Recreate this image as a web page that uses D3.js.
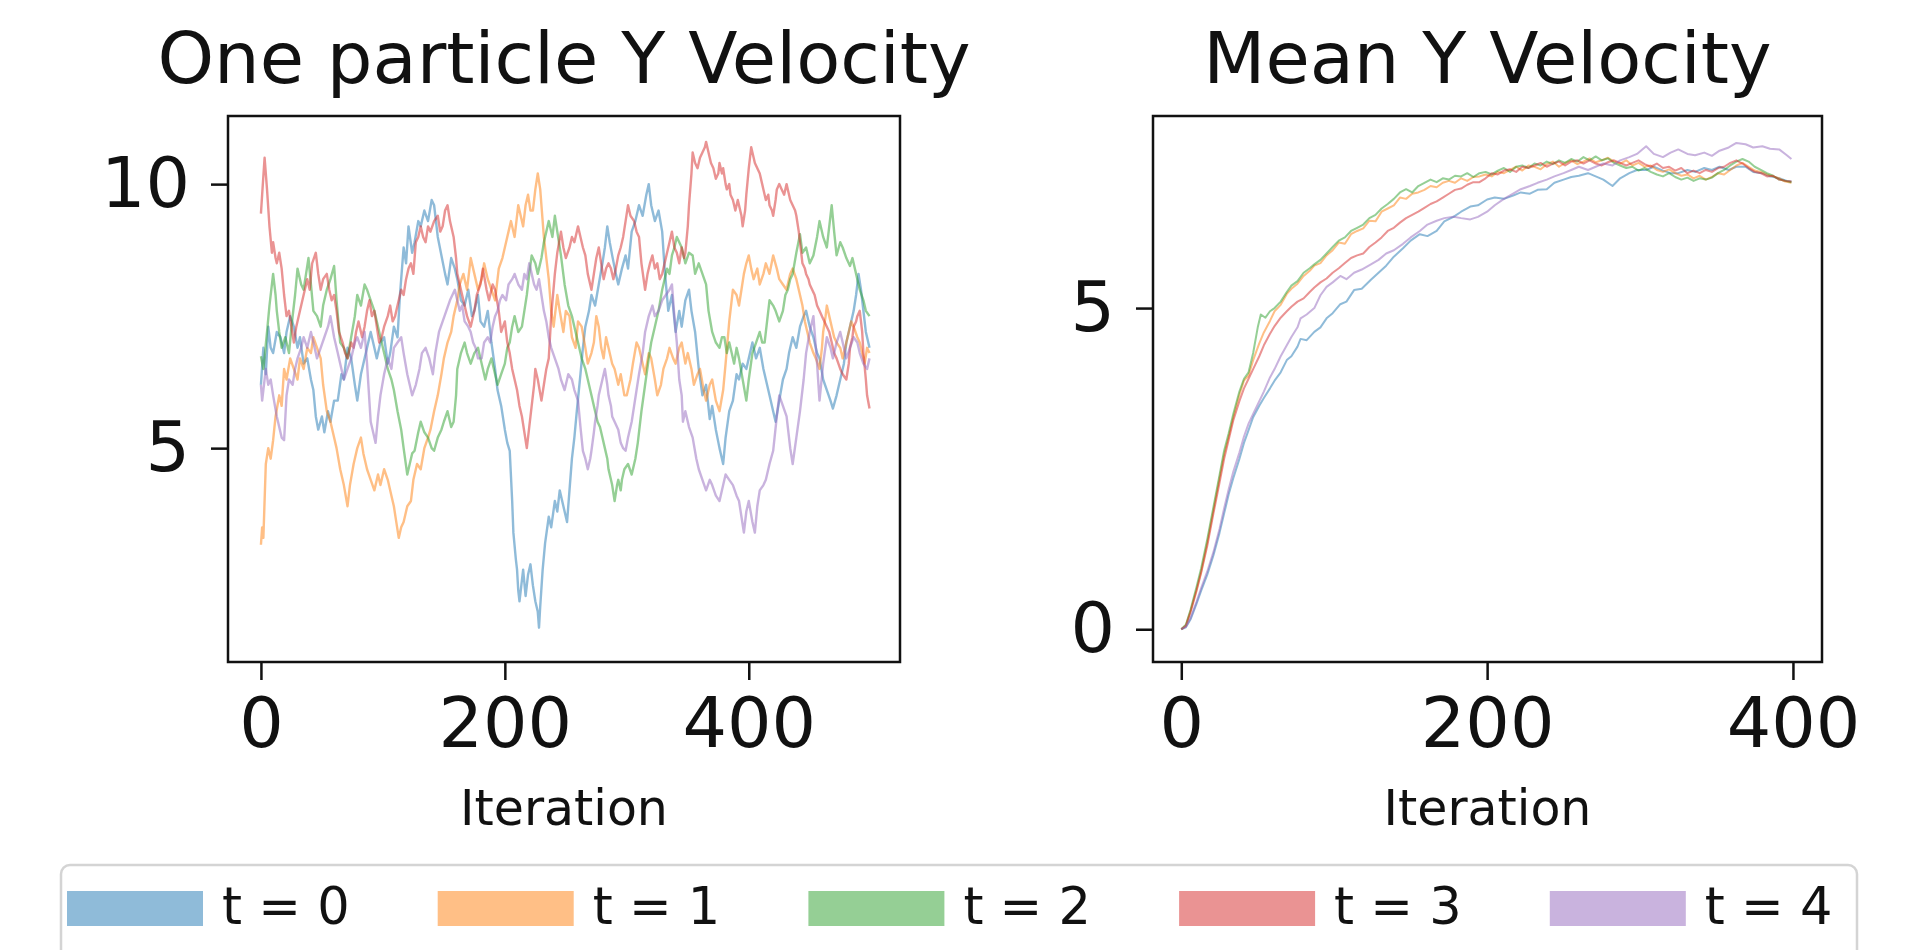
<!DOCTYPE html>
<html>
<head>
<meta charset="utf-8">
<script src="https://cdn.jsdelivr.net/npm/d3@7"></script>
<style>
html, body { margin: 0; padding: 0; background: #fff; overflow: hidden; }
svg text { font-family: "DejaVu Sans", sans-serif; fill: #111; }
</style>
</head>
<body>
<svg id="chart" width="1922" height="950"></svg>
<script>
// [iteration, y velocity]
var oneT0 = [[0,6.2],[2,6.9],[4,6.4],[6,7.3],[8,6.9],[10,6.8],[13,7.2],[16,7.1],[19,6.8],[21,7.2],[24,7.5],[27,7.3],[30,6.9],[32,7.1],[35,6.6],[38,6.7],[41,6.3],[43,6.1],[45,5.6],[47,5.35],[50,5.6],[52,5.3],[55,5.7],[57,5.5],[60,5.9],[63,5.9],[66,6.4],[68,6.3],[71,6.9],[74,6.7],[77,6.2],[79,5.9],[82,6.4],[85,6.7],[88,7.0],[90,7.2],[93,6.9],[95,6.7],[98,7.0],[101,7.1],[104,6.6],[106,6.8],[109,7.3],[112,7.1],[114,7.9],[117,8.8],[119,8.5],[121,9.2],[124,8.7],[126,8.9],[129,9.3],[131,9.2],[134,9.5],[137,9.3],[140,9.7],[142,9.6],[145,9.0],[148,8.65],[151,8.3],[153,8.1],[156,8.6],[159,8.4],[161,8.2],[164,7.8],[167,7.7],[170,8.0],[173,7.5],[175,7.6],[178,7.9],[180,7.4],[183,7.3],[186,7.6],[189,7.0],[192,6.5],[194,6.1],[197,5.8],[200,5.35],[202,5.1],[204,4.95],[206,4.0],[207,3.4],[209,2.9],[210,2.7],[211,2.3],[212,2.1],[214,2.5],[215,2.7],[217,2.2],[219,2.6],[221,2.8],[223,2.4],[225,2.1],[227,1.9],[228,1.6],[229,2.0],[231,2.7],[233,3.2],[236,3.7],[238,3.5],[241,4.0],[243,3.8],[245,4.2],[248,3.9],[251,3.6],[253,4.2],[255,4.8],[257,5.2],[259,5.7],[262,6.4],[264,6.9],[266,7.3],[269,7.6],[271,7.9],[274,7.7],[277,8.1],[280,8.5],[282,8.8],[284,9.2],[286,8.9],[288,8.65],[291,8.3],[293,8.1],[296,8.4],[299,8.65],[301,8.4],[304,9.1],[307,9.3],[310,9.6],[313,9.4],[316,9.8],[318,10.0],[320,9.6],[323,9.3],[326,9.5],[329,9.1],[331,8.4],[334,7.6],[337,7.9],[340,7.2],[343,7.6],[345,7.3],[348,7.8],[351,8.0],[353,7.6],[356,7.2],[359,6.5],[362,6.0],[365,6.2],[368,5.55],[370,5.8],[373,5.35],[376,5.0],[379,4.7],[381,5.2],[384,5.7],[387,5.9],[390,6.4],[392,6.3],[395,6.6],[398,6.5],[400,6.7],[403,7.0],[406,6.7],[409,6.9],[412,6.5],[415,6.2],[417,6.0],[420,5.7],[422,5.5],[425,5.9],[428,6.3],[431,6.5],[433,6.8],[436,7.1],[439,6.9],[442,7.3],[445,7.5],[447,7.6],[450,7.3],[453,7.1],[456,6.8],[458,6.7],[461,6.3],[464,6.1],[467,5.9],[469,5.75],[472,6.0],[475,6.3],[478,6.6],[480,7.0],[483,7.3],[486,7.6],[488,7.9],[490,8.3],[492,8.0],[494,7.6],[496,7.2],[499,6.9]];
var oneT1 = [[0,3.17],[1,3.5],[2,3.3],[4,4.7],[6,5.0],[8,4.8],[10,5.15],[12,5.6],[15,6.0],[17,5.8],[19,6.5],[21,6.3],[24,6.7],[27,6.5],[30,6.3],[32,6.7],[35,6.5],[38,6.9],[41,6.8],[43,7.1],[46,6.9],[49,6.7],[51,6.2],[54,5.7],[57,5.5],[60,5.2],[62,5.0],[65,4.6],[68,4.3],[71,3.9],[73,4.3],[76,4.7],[79,5.0],[82,5.2],[84,4.9],[87,4.6],[90,4.4],[93,4.2],[96,4.5],[98,4.3],[101,4.6],[104,4.4],[107,4.1],[109,3.9],[111,3.6],[113,3.3],[115,3.5],[117,3.6],[120,3.9],[123,4.0],[125,4.4],[128,4.7],[131,4.6],[134,5.0],[137,5.2],[139,5.35],[142,5.7],[145,6.0],[148,6.4],[150,6.7],[153,7.0],[156,7.2],[158,7.5],[161,7.8],[163,8.1],[166,8.3],[169,8.0],[172,8.6],[175,8.3],[178,8.0],[181,8.2],[183,8.5],[186,8.2],[189,8.0],[192,7.8],[195,8.4],[198,8.6],[200,8.8],[203,9.1],[205,9.3],[208,9.0],[211,9.6],[213,9.4],[215,9.2],[217,9.6],[219,9.8],[221,9.5],[223,9.5],[225,9.9],[227,10.2],[229,9.9],[230,9.6],[232,9.0],[234,8.6],[236,8.2],[238,7.6],[240,7.3],[243,7.9],[245,7.6],[248,7.2],[250,7.6],[253,7.5],[255,7.1],[258,6.9],[260,7.4],[263,7.3],[266,6.9],[268,6.6],[271,6.8],[273,7.0],[275,7.5],[277,7.3],[279,6.9],[281,6.7],[283,7.1],[285,6.9],[288,6.6],[290,6.5],[293,6.2],[295,6.4],[298,6.0],[300,6.0],[303,6.3],[305,6.6],[308,7.0],[310,6.9],[313,6.6],[315,6.4],[318,6.8],[320,6.7],[323,6.3],[325,6.0],[328,6.2],[330,6.5],[333,6.7],[335,6.9],[338,6.7],[340,6.6],[343,6.9],[345,7.0],[348,6.6],[350,6.8],[353,6.5],[355,6.2],[358,6.4],[360,6.5],[363,6.1],[365,5.9],[368,6.2],[370,6.3],[373,5.9],[376,5.7],[379,6.1],[381,6.6],[384,7.4],[387,8.0],[390,7.9],[392,7.7],[394,8.0],[396,8.3],[398,8.5],[400,8.65],[402,8.4],[404,8.2],[407,8.4],[409,8.1],[412,8.3],[414,8.5],[417,8.3],[420,8.65],[423,8.4],[425,8.2],[428,8.1],[431,8.0],[434,8.3],[436,8.4],[439,8.2],[441,8.0],[444,7.7],[446,7.4],[448,7.2],[450,7.0],[453,6.8],[455,6.7],[458,6.5],[460,6.9],[461,7.2],[463,7.5],[464,7.7],[466,7.5],[468,7.3],[470,7.1],[472,7.0],[475,6.9],[477,6.7],[479,6.9],[481,7.1],[484,7.4],[486,7.3],[489,7.1],[491,7.0],[493,6.8],[495,6.6],[497,6.9],[499,6.8]];
var oneT2 = [[0,6.74],[2,6.5],[5,7.2],[7,7.7],[10,8.3],[12,7.9],[13,7.6],[15,7.2],[17,6.9],[20,7.1],[23,6.8],[26,7.5],[28,7.9],[30,8.4],[33,8.1],[35,8.0],[37,8.3],[39,8.6],[41,8.1],[43,7.6],[46,7.5],[49,7.3],[51,7.7],[54,8.0],[57,8.2],[60,8.45],[62,7.8],[65,7.0],[68,6.9],[71,6.7],[74,7.1],[77,7.5],[79,7.9],[82,7.7],[85,8.1],[87,8.0],[90,7.8],[93,7.6],[96,7.3],[98,7.1],[101,6.8],[104,6.5],[107,6.3],[109,6.1],[112,5.7],[115,5.35],[117,5.0],[120,4.5],[122,4.7],[124,4.9],[126,4.95],[129,5.3],[131,5.5],[134,5.3],[137,5.2],[140,5.0],[142,4.95],[145,5.2],[148,5.35],[150,5.5],[153,5.7],[156,5.4],[158,5.5],[160,6.0],[161,6.5],[164,6.8],[167,7.0],[169,6.8],[172,6.6],[175,6.8],[178,6.9],[181,6.6],[184,6.3],[186,6.5],[189,6.7],[192,6.4],[194,6.2],[197,6.4],[200,6.6],[202,6.9],[204,7.0],[206,7.3],[208,7.5],[211,7.2],[214,7.3],[216,7.6],[218,7.9],[220,8.3],[222,8.65],[225,8.5],[227,8.3],[230,8.6],[232,8.9],[234,9.1],[236,9.3],[239,9.0],[241,9.4],[243,9.1],[246,8.65],[249,8.1],[252,7.7],[255,7.5],[257,7.3],[260,7.0],[263,6.7],[266,6.5],[268,6.3],[271,6.0],[274,5.7],[276,5.5],[278,5.4],[280,5.2],[282,5.0],[284,4.8],[285,4.6],[287,4.4],[288,4.3],[290,4.0],[292,4.3],[293,4.4],[295,4.2],[296,4.4],[298,4.6],[301,4.7],[304,4.5],[307,4.8],[309,5.1],[312,5.7],[315,6.2],[318,6.7],[320,7.0],[323,7.3],[326,7.6],[329,8.0],[331,8.2],[333,8.4],[335,8.3],[337,8.65],[339,8.8],[341,9.0],[343,8.9],[345,8.8],[348,8.5],[351,8.7],[354,8.65],[356,8.3],[359,8.5],[362,8.3],[365,8.1],[367,7.6],[370,7.2],[373,7.0],[376,6.9],[378,7.1],[380,7.1],[382,6.8],[384,7.0],[386,6.8],[388,6.6],[390,6.9],[392,6.7],[395,6.3],[398,5.9],[400,6.3],[403,6.8],[406,7.0],[409,7.2],[411,7.0],[413,7.0],[415,7.4],[417,7.8],[420,7.7],[422,7.6],[425,7.4],[428,7.6],[430,7.9],[432,8.0],[434,8.2],[436,8.3],[439,8.7],[442,9.05],[444,8.7],[447,8.8],[450,8.5],[453,8.65],[456,9.0],[458,9.3],[461,9.0],[464,8.8],[466,9.2],[468,9.6],[470,9.1],[472,8.65],[475,8.9],[477,8.8],[480,8.6],[483,8.45],[485,8.6],[488,8.3],[491,8.0],[494,7.8],[496,7.6],[499,7.5]];
var oneT3 = [[0,9.44],[1,9.8],[3,10.5],[5,9.9],[7,9.2],[9,8.7],[10,8.9],[12,8.6],[13,8.5],[15,8.7],[17,8.4],[19,7.9],[21,7.5],[23,7.6],[25,7.3],[27,7.0],[29,7.3],[32,7.6],[35,7.9],[38,8.2],[40,8.0],[42,8.5],[45,8.7],[47,8.3],[49,8.0],[51,8.2],[54,8.3],[56,8.0],[58,7.8],[60,7.9],[62,7.6],[64,7.2],[67,7.0],[69,6.8],[71,6.7],[74,7.0],[76,6.9],[78,7.2],[80,7.4],[83,7.1],[85,7.3],[87,7.6],[89,7.8],[91,7.5],[93,7.6],[95,7.3],[97,7.0],[99,7.1],[101,7.3],[104,7.5],[106,7.7],[108,7.4],[110,7.5],[113,7.8],[115,8.0],[117,7.9],[119,8.2],[121,8.4],[123,8.5],[125,8.3],[127,8.9],[129,9.0],[131,9.2],[133,9.0],[135,8.9],[137,9.2],[139,9.1],[142,9.3],[145,9.4],[147,9.1],[149,9.2],[151,9.5],[153,9.6],[155,9.3],[158,9.0],[160,8.6],[161,8.3],[164,8.0],[166,7.8],[169,7.5],[172,7.3],[175,7.6],[177,7.9],[180,8.1],[182,8.4],[185,8.0],[187,7.8],[190,8.1],[192,8.0],[195,7.6],[197,7.2],[200,7.4],[202,7.0],[204,6.8],[206,6.5],[208,6.3],[210,6.1],[212,5.8],[214,5.6],[216,5.3],[218,5.0],[220,5.4],[222,5.8],[224,6.2],[225,6.5],[227,6.3],[230,5.9],[232,6.2],[234,6.5],[236,6.7],[238,7.5],[241,8.3],[243,8.7],[246,9.1],[248,8.8],[250,8.6],[253,8.8],[255,9.0],[257,8.9],[260,9.2],[262,9.0],[264,8.8],[266,8.65],[268,8.3],[271,8.0],[273,8.3],[275,8.6],[277,8.8],[279,8.5],[281,8.2],[283,8.4],[285,8.5],[287,8.4],[289,8.2],[291,8.4],[293,8.65],[295,8.8],[297,9.0],[299,9.3],[301,9.6],[303,9.4],[306,9.3],[308,9.1],[310,9.0],[312,8.5],[315,8.0],[317,8.3],[319,8.5],[321,8.65],[323,8.4],[325,8.5],[327,8.2],[329,8.3],[331,8.5],[333,8.7],[335,8.9],[337,9.1],[339,8.8],[341,8.7],[343,8.5],[345,8.8],[347,8.6],[348,8.7],[350,9.2],[351,9.6],[353,10.2],[354,10.6],[356,10.4],[358,10.3],[360,10.5],[362,10.6],[364,10.7],[365,10.8],[367,10.6],[369,10.4],[371,10.3],[373,10.1],[375,10.2],[376,10.4],[378,10.2],[379,10.3],[381,10.0],[382,9.9],[384,10.0],[385,9.8],[387,9.7],[389,9.5],[391,9.7],[392,9.6],[394,9.4],[395,9.2],[397,9.5],[398,9.8],[400,10.3],[402,10.7],[404,10.5],[405,10.4],[407,10.3],[409,10.2],[411,10.0],[412,9.9],[414,9.7],[416,9.8],[417,9.6],[419,9.5],[420,9.4],[422,9.7],[423,9.9],[425,10.0],[427,9.9],[429,9.8],[431,10.0],[432,9.9],[434,9.7],[436,9.6],[438,9.5],[439,9.4],[441,9.1],[442,8.9],[444,8.5],[446,8.4],[447,8.3],[449,8.2],[450,8.1],[452,8.0],[454,7.9],[456,7.7],[458,7.6],[460,7.5],[462,7.4],[464,7.3],[466,7.2],[468,7.0],[470,6.8],[472,6.7],[475,6.5],[477,6.4],[480,6.3],[482,6.6],[483,6.9],[485,7.1],[486,7.3],[488,7.4],[489,7.5],[491,7.6],[493,7.2],[494,6.8],[496,6.3],[497,6.0],[499,5.75]];
var oneT4 = [[0,6.2],[1,5.9],[2,6.1],[4,6.5],[6,6.2],[8,6.3],[10,6.0],[13,5.6],[15,5.4],[17,5.2],[19,5.15],[21,6.0],[23,6.3],[26,6.2],[28,6.5],[30,6.7],[33,6.9],[35,7.1],[38,6.9],[41,7.2],[43,7.0],[46,6.7],[49,6.9],[52,7.1],[55,7.3],[57,7.5],[60,7.1],[63,6.8],[65,6.6],[68,6.3],[71,6.5],[74,6.7],[77,7.0],[79,7.1],[82,6.9],[85,7.2],[87,6.6],[90,5.5],[92,5.3],[94,5.1],[96,5.6],[98,6.0],[101,6.4],[104,6.7],[107,6.5],[109,6.9],[112,7.0],[115,7.1],[117,6.8],[120,6.4],[122,6.2],[124,6.0],[127,6.2],[130,6.5],[132,6.8],[135,6.9],[138,6.7],[141,6.4],[143,6.8],[146,7.2],[149,7.4],[152,7.6],[155,7.8],[159,8.0],[161,7.8],[163,7.6],[165,7.7],[167,7.4],[170,7.3],[172,7.2],[174,7.0],[176,6.9],[178,6.7],[181,6.7],[183,7.0],[186,7.1],[188,7.0],[190,7.3],[192,7.5],[194,7.6],[196,7.8],[198,7.9],[201,7.8],[203,8.1],[206,8.2],[208,8.3],[211,8.1],[214,8.0],[216,8.3],[218,8.2],[220,8.5],[222,8.3],[224,8.1],[226,8.0],[228,8.2],[230,7.9],[232,7.6],[234,7.4],[236,7.1],[238,6.9],[241,6.7],[244,6.5],[246,6.3],[249,6.1],[252,6.4],[255,6.3],[257,6.1],[260,5.9],[262,5.4],[264,4.95],[266,4.8],[268,4.6],[270,4.8],[271,4.95],[273,5.3],[274,5.5],[276,5.8],[277,6.0],[280,6.3],[282,6.5],[284,6.2],[285,6.0],[287,5.8],[288,5.6],[290,5.5],[293,5.35],[295,5.1],[297,5.0],[299,4.95],[301,5.2],[304,5.5],[306,5.8],[308,6.1],[310,6.4],[313,6.8],[315,7.2],[318,7.5],[321,7.7],[323,7.5],[326,7.6],[329,7.8],[332,7.9],[335,8.0],[337,8.1],[339,7.5],[341,7.0],[343,6.3],[345,6.0],[346,5.5],[348,5.7],[351,5.4],[354,5.2],[357,4.8],[359,4.6],[362,4.4],[365,4.2],[368,4.4],[370,4.3],[373,4.1],[376,4.0],[379,4.3],[381,4.5],[384,4.4],[387,4.3],[390,4.1],[392,4.0],[394,3.7],[396,3.4],[398,3.8],[400,4.0],[403,3.6],[405,3.4],[407,3.9],[409,4.2],[412,4.3],[414,4.4],[417,4.7],[420,4.95],[423,5.6],[425,6.0],[428,5.8],[431,5.6],[434,5.0],[436,4.7],[439,5.2],[442,5.7],[445,6.3],[447,6.8],[450,7.2],[453,7.5],[456,6.6],[458,5.9],[461,6.6],[464,7.1],[467,6.9],[469,6.7],[472,7.0],[475,7.2],[478,6.9],[480,6.7],[483,6.9],[486,7.1],[489,7.0],[491,6.8],[494,6.6],[497,6.5],[499,6.7]];

// [iteration, mean y velocity]
var meanT0 = [[0,0],[3,0.03],[6,0.15],[10,0.4],[13,0.6],[17,0.85],[21,1.15],[25,1.5],[28,1.8],[31,2.1],[34,2.35],[38,2.65],[41,2.9],[44,3.1],[47,3.3],[51,3.48],[54,3.6],[58,3.75],[61,3.87],[65,4.0],[69,4.19],[72,4.25],[76,4.4],[78,4.52],[82,4.5],[87,4.63],[91,4.7],[95,4.84],[99,4.92],[104,5.06],[108,5.1],[113,5.28],[118,5.3],[124,5.44],[129,5.55],[134,5.66],[139,5.8],[145,5.93],[150,6.05],[156,6.15],[161,6.12],[167,6.2],[172,6.35],[178,6.42],[183,6.5],[189,6.58],[194,6.6],[200,6.69],[205,6.72],[211,6.7],[217,6.75],[222,6.8],[228,6.78],[233,6.84],[239,6.85],[244,6.95],[250,7.0],[255,7.04],[260,7.06],[266,7.1],[271,7.05],[276,7.0],[282,6.9],[287,7.02],[293,7.1],[298,7.15],[304,7.15],[309,7.2],[315,7.14],[320,7.1],[325,7.1],[331,7.15],[336,7.12],[342,7.18],[347,7.15],[352,7.2],[358,7.15],[363,7.2],[369,7.2],[374,7.12],[380,7.1],[385,7.05],[391,7.02],[396,6.98],[399,6.97]];
var meanT1 = [[0,0],[3,0.06],[6,0.28],[10,0.62],[13,0.9],[17,1.35],[21,1.85],[25,2.35],[28,2.72],[31,3.0],[34,3.3],[38,3.65],[41,3.87],[44,3.95],[47,4.19],[51,4.45],[54,4.62],[58,4.8],[61,4.95],[65,5.05],[69,5.22],[72,5.3],[76,5.38],[80,5.5],[84,5.58],[87,5.66],[91,5.7],[95,5.82],[99,5.9],[103,6.02],[107,6.0],[111,6.15],[115,6.2],[119,6.24],[123,6.36],[127,6.35],[131,6.5],[135,6.55],[139,6.6],[143,6.72],[147,6.7],[151,6.78],[155,6.8],[159,6.84],[163,6.9],[167,6.88],[171,6.95],[175,6.98],[179,6.95],[183,7.02],[187,6.98],[191,7.04],[195,7.05],[199,7.08],[203,7.05],[207,7.12],[211,7.1],[215,7.15],[219,7.2],[223,7.14],[227,7.22],[231,7.2],[235,7.16],[239,7.24],[243,7.28],[247,7.2],[251,7.26],[255,7.3],[259,7.24],[263,7.28],[267,7.33],[271,7.27],[275,7.3],[279,7.34],[283,7.28],[287,7.25],[291,7.3],[295,7.22],[299,7.26],[303,7.2],[307,7.22],[311,7.15],[315,7.12],[319,7.16],[323,7.1],[327,7.06],[331,7.08],[335,7.02],[339,7.06],[343,7.0],[347,7.04],[351,7.1],[355,7.08],[359,7.15],[363,7.22],[367,7.26],[371,7.2],[375,7.14],[379,7.12],[383,7.08],[387,7.05],[391,7.02],[395,6.97],[399,6.95]];
var meanT2 = [[0,0],[3,0.07],[6,0.3],[10,0.66],[13,0.95],[17,1.4],[21,1.9],[25,2.4],[28,2.78],[31,3.05],[34,3.35],[38,3.7],[41,3.9],[44,4.0],[47,4.3],[50,4.7],[52,4.9],[55,4.85],[58,4.95],[61,5.0],[65,5.1],[69,5.25],[72,5.35],[76,5.42],[80,5.55],[84,5.62],[87,5.68],[91,5.75],[95,5.85],[99,5.95],[103,6.05],[107,6.1],[111,6.2],[115,6.25],[119,6.3],[123,6.4],[127,6.45],[131,6.55],[135,6.62],[139,6.7],[143,6.8],[147,6.85],[151,6.8],[155,6.9],[159,6.95],[163,7.0],[167,6.96],[171,7.02],[175,7.0],[179,7.06],[183,7.05],[187,7.1],[191,7.04],[195,7.1],[199,7.12],[203,7.08],[207,7.14],[211,7.18],[215,7.12],[219,7.2],[223,7.22],[227,7.18],[231,7.25],[235,7.22],[239,7.28],[243,7.24],[247,7.3],[251,7.26],[255,7.32],[259,7.28],[263,7.35],[267,7.3],[271,7.36],[275,7.3],[279,7.33],[283,7.26],[287,7.22],[291,7.18],[295,7.2],[299,7.14],[303,7.18],[307,7.12],[311,7.08],[315,7.05],[319,7.1],[323,7.04],[327,7.0],[331,7.03],[335,6.98],[339,7.02],[343,7.0],[347,7.03],[351,7.1],[355,7.15],[359,7.22],[363,7.28],[367,7.32],[371,7.28],[375,7.2],[379,7.15],[383,7.1],[387,7.06],[391,7.0],[395,6.98],[399,6.96]];
var meanT3 = [[0,0],[3,0.05],[6,0.26],[10,0.6],[13,0.88],[17,1.3],[21,1.8],[25,2.28],[28,2.65],[31,2.95],[34,3.25],[38,3.55],[41,3.75],[44,3.9],[47,4.05],[51,4.25],[54,4.42],[58,4.6],[61,4.72],[65,4.85],[69,4.95],[72,5.02],[76,5.1],[80,5.15],[84,5.25],[87,5.32],[91,5.4],[95,5.46],[99,5.55],[103,5.62],[107,5.7],[111,5.78],[115,5.82],[119,5.85],[123,5.95],[127,6.02],[131,6.1],[135,6.2],[139,6.25],[143,6.33],[147,6.4],[151,6.45],[155,6.5],[159,6.56],[163,6.62],[167,6.66],[171,6.72],[175,6.78],[179,6.84],[183,6.86],[187,6.92],[191,6.96],[195,6.96],[199,7.02],[203,7.1],[207,7.08],[211,7.14],[215,7.16],[219,7.12],[223,7.2],[227,7.18],[231,7.22],[235,7.26],[239,7.2],[243,7.25],[247,7.28],[251,7.22],[255,7.28],[259,7.3],[263,7.25],[267,7.3],[271,7.25],[275,7.22],[279,7.27],[283,7.3],[287,7.26],[291,7.22],[295,7.26],[299,7.3],[303,7.24],[307,7.2],[311,7.25],[315,7.18],[319,7.2],[323,7.14],[327,7.18],[331,7.1],[335,7.14],[339,7.1],[343,7.15],[347,7.12],[351,7.18],[355,7.2],[359,7.26],[363,7.3],[367,7.25],[371,7.18],[375,7.12],[379,7.1],[383,7.05],[387,7.06],[391,7.0],[395,6.98],[399,6.97]];
var meanT4 = [[0,0],[3,0.04],[6,0.17],[10,0.43],[13,0.64],[17,0.9],[21,1.2],[25,1.56],[28,1.88],[31,2.18],[34,2.45],[38,2.75],[41,3.0],[44,3.2],[47,3.35],[51,3.55],[54,3.7],[58,3.92],[61,4.05],[65,4.25],[69,4.42],[72,4.55],[76,4.7],[78,4.84],[82,4.9],[87,5.0],[91,5.2],[95,5.33],[99,5.4],[104,5.5],[108,5.45],[113,5.55],[118,5.6],[124,5.68],[129,5.75],[134,5.85],[139,5.9],[145,6.0],[150,6.1],[156,6.2],[161,6.3],[167,6.36],[172,6.4],[178,6.42],[183,6.4],[189,6.38],[194,6.42],[200,6.5],[205,6.6],[211,6.7],[217,6.78],[222,6.85],[228,6.9],[233,6.95],[239,7.0],[244,7.05],[250,7.1],[255,7.15],[260,7.2],[266,7.15],[271,7.2],[276,7.25],[282,7.22],[287,7.3],[293,7.35],[298,7.4],[304,7.52],[309,7.4],[315,7.35],[320,7.42],[325,7.47],[331,7.4],[336,7.38],[342,7.42],[347,7.37],[352,7.45],[358,7.5],[363,7.57],[369,7.55],[374,7.5],[380,7.52],[385,7.48],[391,7.47],[396,7.38],[399,7.32]];

var seriesLabels = ['t = 0', 't = 1', 't = 2', 't = 3', 't = 4'];
var seriesColors = ['#1f77b4', '#ff7f0e', '#2ca02c', '#d62728', '#9467bd'];
var xTicks = [0, 200, 400];
var oneYTicks = [5, 10];
var meanYTicks = [0, 5];

var svg = d3.select('#chart');

function drawPanel(o) {
    var x = d3.scaleLinear().domain(o.xDomain).range([o.left, o.right]),
        y = d3.scaleLinear().domain(o.yDomain).range([o.bottom, o.top]);

    var g = svg.append('g');

    var line = d3.line()
        .x(function(d) { return x(d[0]); })
        .y(function(d) { return y(d[1]); });

    g.selectAll('path.series')
        .data(o.series)
        .enter().append('path')
        .attr('class', 'series')
        .attr('d', line)
        .attr('fill', 'none')
        .attr('stroke', function(d, i) { return seriesColors[i]; })
        .attr('stroke-opacity', 0.5)
        .attr('stroke-width', o.lineWidth)
        .attr('stroke-linejoin', 'round');

    var xAxis = g.append('g')
        .attr('transform', 'translate(0,' + o.bottom + ')')
        .call(d3.axisBottom(x).tickValues(xTicks).tickSize(18).tickPadding(17).tickFormat(d3.format('d')));
    var yAxis = g.append('g')
        .attr('transform', 'translate(' + o.left + ',0)')
        .call(d3.axisLeft(y).tickValues(o.yTicks).tickSize(17).tickPadding(21).tickFormat(d3.format('d')));

    [xAxis, yAxis].forEach(function(a) {
        a.select('.domain').remove();
        a.selectAll('.tick line').attr('stroke', '#111').attr('stroke-width', 2.5);
        a.selectAll('.tick text')
            .attr('font-family', '"DejaVu Sans", sans-serif')
            .attr('font-size', 70)
            .attr('fill', '#111');
    });

    g.append('rect')
        .attr('x', o.left).attr('y', o.top)
        .attr('width', o.right - o.left).attr('height', o.bottom - o.top)
        .attr('fill', 'none').attr('stroke', '#111').attr('stroke-width', 2.5);

    g.append('text')
        .attr('x', (o.left + o.right) / 2).attr('y', 83)
        .attr('text-anchor', 'middle')
        .attr('font-size', 72)
        .text(o.title);

    g.append('text')
        .attr('x', (o.left + o.right) / 2).attr('y', 825)
        .attr('text-anchor', 'middle')
        .attr('font-size', 49)
        .text('Iteration');
}

drawPanel({
    title: 'One particle Y Velocity',
    left: 228, right: 900, top: 116, bottom: 662,
    xDomain: [-27, 524], yDomain: [0.95, 11.29],
    yTicks: oneYTicks,
    series: [oneT0, oneT1, oneT2, oneT3, oneT4],
    lineWidth: 2.4
});

drawPanel({
    title: 'Mean Y Velocity',
    left: 1153, right: 1822, top: 116, bottom: 662,
    xDomain: [-18.5, 419], yDomain: [-0.51, 7.99],
    yTicks: meanYTicks,
    series: [meanT0, meanT1, meanT2, meanT3, meanT4],
    lineWidth: 2
});

// legend, runs off the bottom edge like the original
var legend = svg.append('g');
legend.append('rect')
    .attr('x', 61).attr('y', 865)
    .attr('width', 1796).attr('height', 140)
    .attr('rx', 9)
    .attr('fill', '#fff').attr('stroke', '#d4d4d4').attr('stroke-width', 2.5);

var item = legend.selectAll('g.item')
    .data(seriesLabels)
    .enter().append('g')
    .attr('class', 'item')
    .attr('transform', function(d, i) { return 'translate(' + (67 + i * 370.7) + ',0)'; });

item.append('rect')
    .attr('x', 0).attr('y', 891)
    .attr('width', 136).attr('height', 35)
    .attr('fill', function(d, i) { return seriesColors[i]; })
    .attr('fill-opacity', 0.5);

item.append('text')
    .attr('x', 155).attr('y', 924)
    .attr('font-size', 51)
    .text(function(d) { return d; });
</script>
</body>
</html>
